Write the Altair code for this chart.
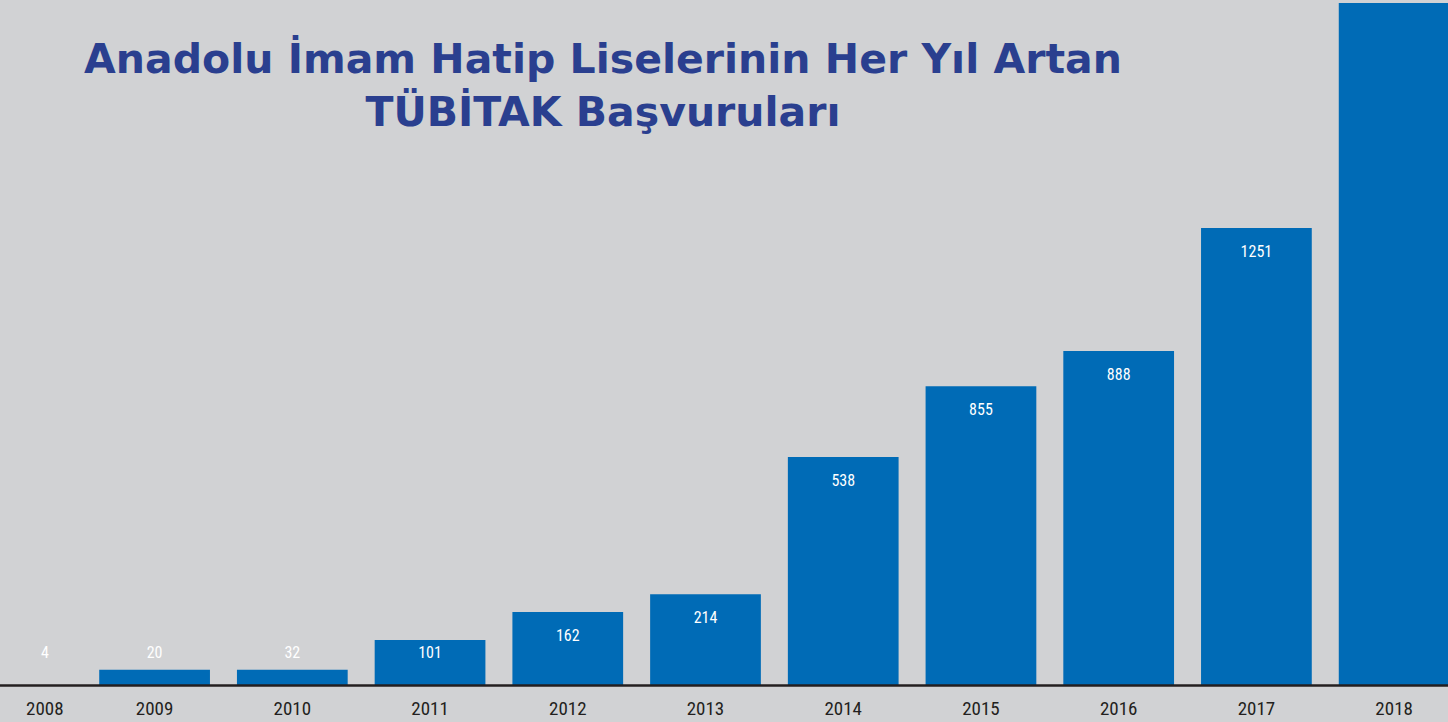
import altair as alt
import pandas as pd

# Data
years = ["2008", "2009", "2010", "2011", "2012", "2013", "2014", "2015", "2016", "2017", "2018"]
# printed labels on the bars (2018 label not visible)
applications = [4, 20, 32, 101, 162, 214, 538, 855, 888, 1251, None]
# bar lengths as drawn in the picture (same units as the y scale)
bar_length = [0, 34, 34, 101, 164, 204, 512, 671, 750, 1026, 1531]

title_lines = ["Anadolu İmam Hatip Liselerinin Her Yıl Artan", "TÜBİTAK Başvuruları"]

df = pd.DataFrame({"year": years, "label": applications, "bar": bar_length})

BG = "#d1d2d4"
BAR = "#006bb6"
TITLE = "#2a3f8f"
NARROW = "Liberation Sans Narrow, Roboto Condensed, DejaVu Sans Condensed, Roboto"

x = alt.X(
    "year:N",
    sort=years,
    title=None,
    scale=alt.Scale(range=[-52, 1463], paddingInner=0.196, paddingOuter=0.098),
    axis=alt.Axis(
        labelAngle=0,
        ticks=False,
        labelPadding=14,
        labelFontSize=19,
        labelFont=NARROW,
        labelColor="#231f20",
        labelOffset={"condition": {"test": "datum.value == '2008'", "value": 28}, "value": 0},
        domainColor="#231f20",
        domainWidth=2.5,
        grid=False,
        zindex=1,
    ),
)
y_scale = alt.Scale(domain=[0, 1538])

base = alt.Chart(df)

bars = base.mark_bar(color=BAR, clip=True).encode(
    x=x,
    y=alt.Y("bar:Q", scale=y_scale, axis=None, title=None),
)

label_base = base.transform_filter("datum.label != null").transform_calculate(
    label_y="max(datum.bar, 126)"
)
label_enc = dict(
    x=x,
    y=alt.Y("label_y:Q", scale=y_scale, axis=None),
    text=alt.Text("label:Q"),
)

labels_main = (
    label_base.transform_filter("datum.year != '2008'")
    .mark_text(color="white", fontSize=16, font=NARROW, baseline="middle", dy=24)
    .encode(**label_enc)
)
labels_first = (
    label_base.transform_filter("datum.year == '2008'")
    .mark_text(color="white", fontSize=16, font=NARROW, baseline="middle", dy=24, dx=28)
    .encode(**label_enc)
)

title = (
    alt.Chart(pd.DataFrame({"t": [0]}))
    .mark_text(
        text=title_lines,
        font="DejaVu Sans",
        fontWeight="bold",
        fontSize=41,
        color=TITLE,
        align="center",
        baseline="alphabetic",
        lineHeight=53,
    )
    .encode(x=alt.value(603), y=alt.value(73))
)

chart = (
    alt.layer(bars, labels_main, labels_first, title)
    .properties(
        width=1448,
        height=685,
        background=BG,
        padding={"left": 0, "top": 0, "right": 0, "bottom": 37},
        autosize=alt.AutoSizeParams(type="none"),
    )
    .configure_view(stroke=None)
)

chart.save("out.html", embed_options={"renderer": "svg", "actions": False})
